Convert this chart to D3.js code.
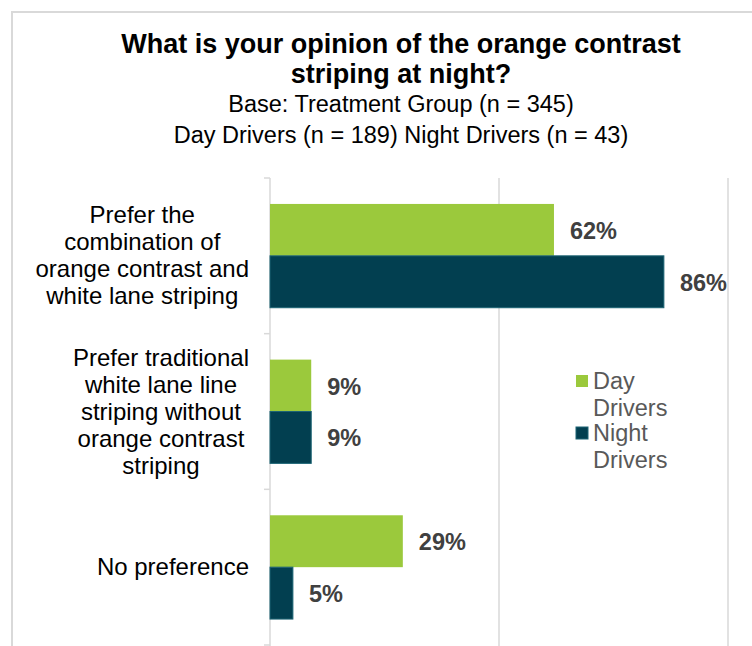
<!DOCTYPE html>
<html>
<head>
<meta charset="utf-8">
<script src="https://cdn.jsdelivr.net/npm/d3@7"></script>
<style>
  body { margin: 0; background: #fff; }
  svg { display: block; font-family: "Liberation Sans", Arial, sans-serif; }
</style>
</head>
<body>
<svg id="chart" width="752" height="646"></svg>
<script>
// Survey responses, share of respondents (%)
const categories = [
  ["Prefer the", "combination of", "orange contrast and", "white lane striping"],
  ["Prefer traditional", "white lane line", "striping without", "orange contrast", "striping"],
  ["No preference"]
];
const seriesNames = ["Day Drivers", "Night Drivers"];
const dayDrivers = [62, 9, 29];
const nightDrivers = [86, 9, 5];
const xTicks = [0, 50, 100];
const titleLines = ["What is your opinion of the orange contrast", "striping at night?"];
const subtitleLines = ["Base: Treatment Group (n = 345)", "Day Drivers (n = 189) Night Drivers (n = 43)"];

const colors = ["#9BC93C", "#023F50"];
const svg = d3.select("#chart");

// outer frame
svg.append("rect")
  .attr("x", 12).attr("y", 12)
  .attr("width", 760).attr("height", 660)
  .attr("fill", "none").attr("stroke", "#d9d9d9").attr("stroke-width", 2);

// title and subtitle
const cx = 401;
titleLines.forEach((t, i) => {
  svg.append("text").attr("x", cx).attr("y", 53 + i * 30)
    .attr("text-anchor", "middle").attr("font-weight", "bold")
    .attr("font-size", 27).attr("fill", "#000").text(t);
});
subtitleLines.forEach((t, i) => {
  svg.append("text").attr("x", cx).attr("y", 112 + i * 31)
    .attr("text-anchor", "middle")
    .attr("font-size", 23.5).attr("fill", "#000").text(t);
});

const margin = { left: 270, top: 178 };
const plotW = 458, plotH = 467;

const x = d3.scaleLinear().domain([0, 100]).range([margin.left, margin.left + plotW]);
const y = d3.scaleBand().domain(d3.range(categories.length))
  .range([margin.top, margin.top + plotH]).paddingInner(0).paddingOuter(0);
const inner = d3.scaleBand().domain([0, 1]).range([0, y.bandwidth()]).paddingInner(0).paddingOuter(0.5);

// gridlines
svg.append("g").selectAll("line").data(xTicks.filter(d => d > 0)).join("line")
  .attr("x1", d => x(d)).attr("x2", d => x(d))
  .attr("y1", margin.top).attr("y2", margin.top + plotH + 5)
  .attr("stroke", "#d9d9d9").attr("stroke-width", 1.5);

// category axis with tick marks at band boundaries
const axisG = svg.append("g");
axisG.append("line").attr("x1", x(0)).attr("x2", x(0))
  .attr("y1", margin.top).attr("y2", margin.top + plotH + 5)
  .attr("stroke", "#d9d9d9").attr("stroke-width", 1.5);
axisG.selectAll("line.tick").data(d3.range(categories.length + 1)).join("line")
  .attr("class", "tick")
  .attr("x1", x(0) - 6).attr("x2", x(0))
  .attr("y1", i => margin.top + i * y.step()).attr("y2", i => margin.top + i * y.step())
  .attr("stroke", "#d9d9d9").attr("stroke-width", 1.5);

// bars
const rows = categories.map((c, i) => ({ i, vals: [dayDrivers[i], nightDrivers[i]] }));
const groups = svg.append("g").selectAll("g").data(rows).join("g")
  .attr("transform", d => `translate(0,${y(d.i)})`);

groups.selectAll("rect").data(d => d.vals.map((v, s) => ({ v, s }))).join("rect")
  .attr("x", x(0))
  .attr("y", d => inner(d.s))
  .attr("width", d => x(d.v) - x(0))
  .attr("height", inner.bandwidth())
  .attr("fill", d => colors[d.s])
  .attr("stroke", d => d.s === 1 ? "#1d6474" : "none")
  .attr("stroke-width", 1);

groups.selectAll("text").data(d => d.vals.map((v, s) => ({ v, s }))).join("text")
  .attr("x", d => x(d.v) + 16)
  .attr("y", d => inner(d.s) + inner.bandwidth() / 2 + 9)
  .attr("font-size", 23.5).attr("font-weight", "bold").attr("fill", "#404040")
  .text(d => d.v + "%");

// category labels: centred lines, block right-aligned to the axis
const labelRight = 249, lineH = 27;
categories.forEach((lines, i) => {
  const g = svg.append("g");
  const texts = lines.map((t, k) => g.append("text")
    .attr("font-size", 24).attr("fill", "#000").attr("text-anchor", "middle").text(t));
  const maxW = d3.max(texts, t => t.node().getComputedTextLength());
  const centerY = y(i) + y.bandwidth() / 2;
  const startY = centerY - (lines.length - 1) * lineH / 2 + 8;
  texts.forEach((t, k) => t.attr("x", labelRight - maxW / 2).attr("y", startY + k * lineH));
});

// legend
const legend = svg.append("g");
const legendRows = [["Day", "Drivers"], ["Night", "Drivers"]];
legendRows.forEach((lines, s) => {
  const top = 375 + s * 52;
  legend.append("rect").attr("x", 576).attr("y", top).attr("width", 12).attr("height", 12)
    .attr("fill", colors[s]).attr("stroke", s === 1 ? "#1d6474" : "none");
  lines.forEach((t, k) => legend.append("text")
    .attr("x", 593).attr("y", top + 14 + k * 27)
    .attr("font-size", 23.5).attr("fill", "#595959").text(t));
});
</script>
</body>
</html>
